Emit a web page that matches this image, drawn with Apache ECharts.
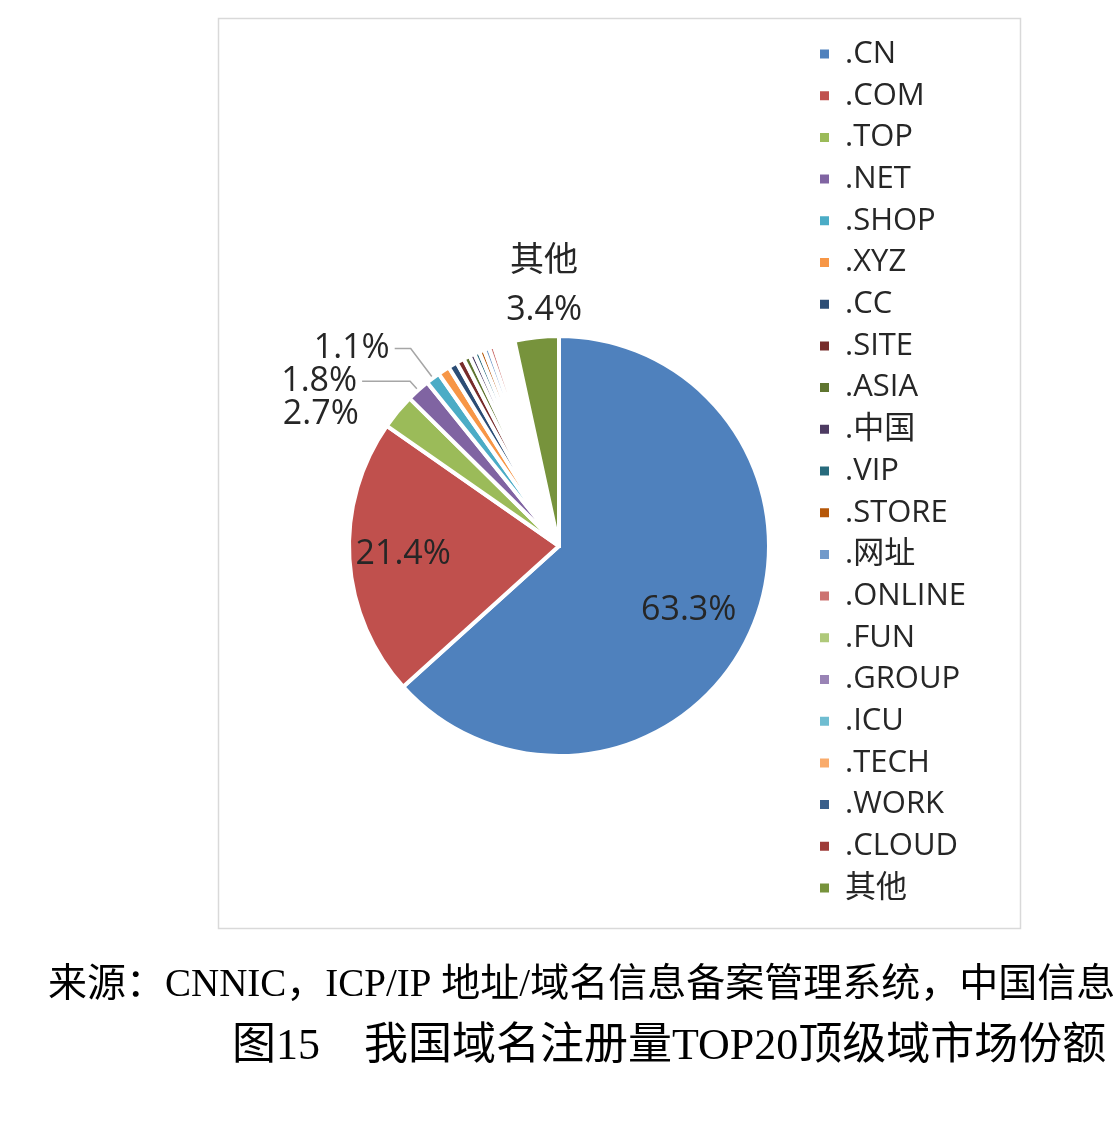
<!DOCTYPE html>
<html>
<head>
<meta charset="utf-8">
<script src="https://cdn.jsdelivr.net/npm/echarts@6/dist/echarts.min.js"></script>
<style>
html, body { margin: 0; padding: 0; background: #fff; }
#main { width: 1115px; height: 1122px; }
</style>
</head>
<body>
<div id="main"></div>
<script>
// 顶级域名称
var domains = ['.CN', '.COM', '.TOP', '.NET', '.SHOP', '.XYZ', '.CC', '.SITE', '.ASIA', '.中国',
	'.VIP', '.STORE', '.网址', '.ONLINE', '.FUN', '.GROUP', '.ICU', '.TECH', '.WORK', '.CLOUD', '其他'];
// 市场份额 (%)
var shares = [63.3, 21.4, 2.7, 1.8, 1.1, 0.9, 0.7, 0.6, 0.5, 0.4,
	0.4, 0.4, 0.4, 0.4, 0.3, 0.3, 0.3, 0.3, 0.2, 0.2, 3.4];
// Excel 风格配色
var colors = ['#4F81BD', '#C0504D', '#9BBB59', '#8064A2', '#4BACC6', '#F79646', '#2C4D75', '#772C2A',
	'#5F7530', '#4D3B62', '#276A7C', '#B65708', '#729ACA', '#CD7371', '#AFC97A', '#9983B5',
	'#6FBDD1', '#F9AB6B', '#3A5F8B', '#9E3B38', '#77933C'];

var source = '来源：CNNIC，ICP/IP 地址/域名信息备案管理系统，中国信息通信研究院';
var caption = '图15　我国域名注册量TOP20顶级域市场份额';

var sans = '"Open Sans", "Noto Sans CJK SC", sans-serif';
var serif = '"Liberation Serif", "Noto Sans CJK SC", serif';

var chart = echarts.init(document.getElementById('main'));

var leader = { color: '#a6a6a6', width: 1.5 };

// 各扇区的标签设置
function labelFor(i) {
	var base = { show: true, fontSize: 34, fontFamily: sans, color: '#262626' };
	if (i === 0 || i === 1) {
		base.position = 'inside';
		return { label: base, labelLine: { show: false } };
	}
	if (i === 2) {
		base.position = 'outside';
		return { label: base, labelLine: { show: false, length: 5, length2: 30 } };
	}
	if (i === 3) {
		base.position = 'outside';
		return { label: base, labelLine: { show: true, length: 12, length2: 48, lineStyle: leader } };
	}
	if (i === 4) {
		base.position = 'outside';
		return { label: base, labelLine: { show: true, length: 37, length2: 16, lineStyle: leader } };
	}
	if (i === 20) {
		base.position = 'outside';
		base.lineHeight = 49;
		return { label: base, labelLine: { show: false, length: 14, length2: 0 } };
	}
	return { label: { show: false }, labelLine: { show: false } };
}

var pieItems = domains.map(function(name, i) {
	var item = { name: name, value: shares[i], itemStyle: { color: colors[i] } };
	var l = labelFor(i);
	item.label = l.label;
	item.labelLine = l.labelLine;
	return item;
});

chart.setOption({
	backgroundColor: '#fff',
	animation: false,
	graphic: [
		{
			type: 'rect',
			shape: { x: 218.5, y: 18.5, width: 802, height: 910 },
			style: { fill: 'none', stroke: '#d9d9d9', lineWidth: 1.5 },
			silent: true
		},
		{
			type: 'text',
			x: 48,
			y: 986,
			style: { text: source, font: '39px ' + serif, fill: '#000', textVerticalAlign: 'middle' }
		},
		{
			type: 'text',
			x: 232,
			y: 1047,
			style: { text: caption, font: '44px ' + serif, fill: '#000', textVerticalAlign: 'middle' }
		}
	],
	legend: {
		orient: 'vertical',
		left: 818,
		top: 36,
		padding: 0,
		itemWidth: 11,
		itemHeight: 11,
		itemGap: 5.7,
		icon: 'rect',
		selectedMode: false,
		textStyle: {
			fontSize: 31,
			fontFamily: sans,
			color: '#262626',
			lineHeight: 36,
			padding: [0, 0, 0, 10]
		},
		data: domains
	},
	series: [{
		name: '市场份额',
		type: 'pie',
		center: [559, 546],
		radius: 210,
		startAngle: 90,
		clockwise: true,
		avoidLabelOverlap: false,
		itemStyle: { borderColor: '#fff', borderWidth: 4 },
		label: {
			formatter: function(p) {
				if (p.dataIndex === 20) return p.name + '\n' + p.value.toFixed(1) + '%';
				return p.value.toFixed(1) + '%';
			}
		},
		labelLayout: function(p) {
			if (p.dataIndex === 0) return { dx: 31, dy: 20 };
			if (p.dataIndex === 1) return { dx: -48, dy: 2 };
			if (p.dataIndex === 2) return { dy: 6 };
			if (p.dataIndex === 20) return { align: 'center', verticalAlign: 'bottom', dx: 14, dy: 12 };
		},
		data: pieItems
	}]
});
</script>
</body>
</html>
